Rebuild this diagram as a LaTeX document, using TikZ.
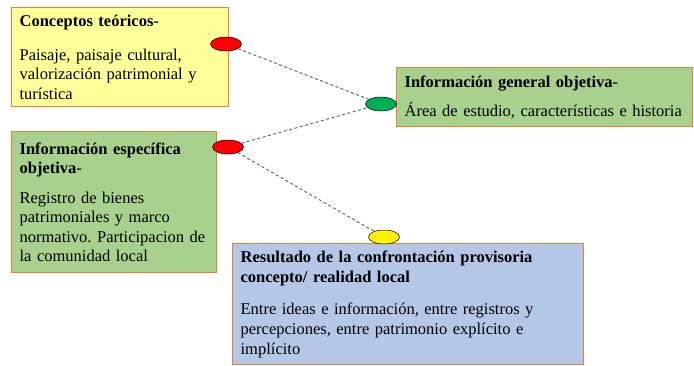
\documentclass[tikz,border=0pt]{standalone}
\usepackage{fontspec}
\setmainfont{Liberation Serif}
\usetikzlibrary{positioning, shapes.geometric}
\definecolor{boxorange}{HTML}{ED7D31}
\definecolor{paleyellow}{HTML}{FFFF99}
\definecolor{palegreen}{HTML}{A9D18E}
\definecolor{paleblue}{HTML}{B4C7E7}
\definecolor{dotgreen}{HTML}{00B050}
\tikzset{
  infobox/.style={
    rectangle, draw=boxorange, line width=1.3pt, anchor=north west,
    align=left, inner xsep=8pt, inner ysep=3pt,
    font=\fontsize{16.5}{19.2}\selectfont\frenchspacing
  },
  concept/.style={infobox, fill=paleyellow},
  factual/.style={infobox, fill=palegreen},
  outcome/.style={infobox, fill=paleblue},
  dot/.style={ellipse, draw=black, line width=0.5pt, minimum width=31pt,
    minimum height=14pt, inner sep=0pt},
  link/.style={dashed, dash pattern=on 3pt off 2.5pt, draw=black!65, line width=0.9pt}
}

\begin{document}
\begin{tikzpicture}[x=1pt, y=-1pt]
    \useasboundingbox (0,0) rectangle (694,365);

    % boxes
    \node[concept, text width=201pt, minimum height=99pt] (teoria) at (11,7)
      {\textbf{Conceptos teóricos}-\\[15pt]
       Paisaje, paisaje cultural,\\
       valorización patrimonial y\\
       turística};
    \node[factual, text width=280pt, minimum height=59pt] (general) at (396,67)
      {\textbf{Información general objetiva}-\\[10pt]
       \mbox{Área de estudio, características e historia}};
    \node[factual, text width=189pt, minimum height=141pt] (especifica) at (11,131)
      {\textbf{Información específica}\\
       \textbf{objetiva}-\\[11pt]
       Registro de bienes\\
       patrimoniales y marco\\
       \mbox{normativo. Participacion de}\\
       la comunidad local};
    \node[outcome, text width=335pt, minimum height=121pt,
      font=\fontsize{16.5}{20}\selectfont\frenchspacing] (resultado) at (232,243)
      {\textbf{Resultado de la confrontación provisoria}\\
       \textbf{concepto/ realidad local}\\[12pt]
       Entre ideas e información, entre registros y\\
       percepciones, entre patrimonio explícito e\\
       implícito};

    % connection points
    \node[dot, fill=red] (p1) at (226,44) {};
    \node[dot, fill=dotgreen] (p2) at (381,104) {};
    \node[dot, fill=red] (p3) at (228,147) {};
    \node[dot, fill=yellow] (p4) at (384,237) {};

    \draw[link] (p1) -- (p2);
    \draw[link] (p3) -- (p2);
    \draw[link] (p3) -- (p4);
\end{tikzpicture}
\end{document}
